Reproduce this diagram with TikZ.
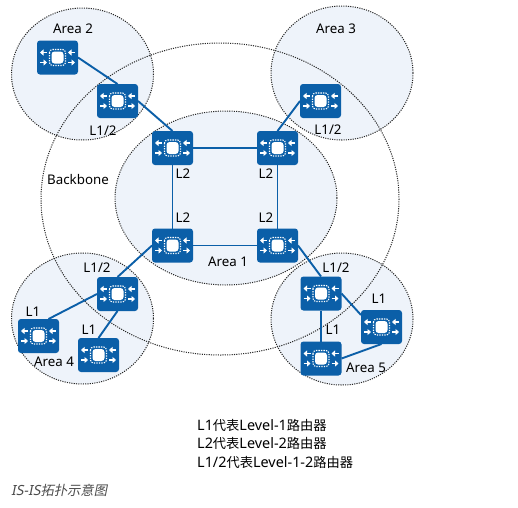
\documentclass[tikz,border=0pt]{standalone}
\usepackage{fontspec}
\setmainfont{Noto Sans}
\newfontfamily\cjk[Scale=0.92]{Noto Sans CJK SC}
\newfontfamily\capfont[FakeSlant=0.2]{Noto Sans}
\newfontfamily\capcjk[FakeSlant=0.2,Scale=0.95]{Noto Sans CJK SC}
\usetikzlibrary{positioning,calc,arrows.meta}
\definecolor{routerblue}{HTML}{0B5FA8}
\definecolor{areafill}{HTML}{EEF3FA}
\tikzset{
  dotline/.style={draw=black!85, line width=1pt, dash pattern=on 1.1pt off 1.2pt},
  area/.style={dotline, fill=areafill},
  link/.style={draw=routerblue, line width=1.9pt},
  lbl/.style={font=\fontsize{13.3}{15}\selectfont, inner sep=0pt, text=black},
  keytext/.style={font=\fontsize{14.4}{16}\selectfont, inner sep=0pt, anchor=west},
  captext/.style={font=\fontsize{14}{16}\selectfont, inner sep=0pt, anchor=west, text=black!70},
  router/.style={rectangle, rounded corners=3pt, fill=routerblue, minimum width=41pt, minimum height=34pt, inner sep=0pt, outer sep=0pt,
    path picture={
      \coordinate (c) at (path picture bounding box.center);
      \fill[white] ($(c)+(-6,-6)$) rectangle ($(c)+(6,6)$);
      \draw[white, line width=1.1pt, dash pattern=on 1.3pt off 1.2pt] ($(c)+(-8,-8)$) rectangle ($(c)+(8,8)$);
      \foreach \sx in {-1,1} {
        \draw[white, line width=1.8pt, -{Triangle[length=3.5pt,width=6pt]}] ($(c)+(\sx*14+3.5,-5)$) -- ($(c)+(\sx*14-3.5,-5)$);
        \draw[white, line width=1.8pt, -{Triangle[length=3.5pt,width=6pt]}] ($(c)+(\sx*14-3.5,5)$) -- ($(c)+(\sx*14+3.5,5)$);
      }
    }}
}
\begin{document}
\begin{tikzpicture}[x=1pt, y=-1pt]
\useasboundingbox (0,0) rectangle (518,507);
\fill[white] (0,0) rectangle (518,507);
% areas
\draw[area] (82.5,74) ellipse [x radius=71, y radius=66];
\draw[area] (342,73) ellipse [x radius=71, y radius=67];
\draw[area] (226,198) ellipse [x radius=111, y radius=87];
\draw[area] (82.5,318.5) ellipse [x radius=71, y radius=65.5];
\draw[area] (342,319) ellipse [x radius=71, y radius=66];
\draw[dotline] (220,199) ellipse [x radius=179, y radius=156];
% routers
\node (a2r) [router] at (57.5,57.5) {};
\node (a2b) [router] at (117.5,101) {};
\node (tl) [router] at (172.5,148) {};
\node (tr) [router] at (277.5,148) {};
\node (bl) [router] at (172.5,245.5) {};
\node (br) [router] at (277.5,245.5) {};
\node (a3b) [router] at (320.5,101) {};
\node (a4b) [router] at (117.5,294) {};
\node (a4l) [router] at (38.5,336) {};
\node (a4r) [router] at (98.5,355) {};
\node (a5b) [router] at (321,293.5) {};
\node (a5r) [router] at (381.5,327) {};
\node (a5l) [router] at (321,358.5) {};
% links
\draw[link] (a2r.east) -- (a2b.north);
\draw[link] (a2b.east) -- (tl.north);
\draw[link] (tl) -- (tr);
\draw[link] (tl) -- (bl);
\draw[link] (tr) -- (br);
\draw[link] (bl) -- (br);
\draw[link] (tr.north) -- (a3b.west);
\draw[link] (bl.west) -- (a4b.north);
\draw[link] (a4b.west) -- ([xshift=10pt]a4l.north);
\draw[link] (a4b.south) -- (a4r.north);
\draw[link] (br.east) -- (a5b.north);
\draw[link] (a5b.east) -- ([yshift=12pt]a5r.west);
\draw[link] (a5b) -- (a5l);
\draw[link] (a5r.south) -- (a5l.east);
% labels
\node (t2) [lbl] at (73,29) {Area 2};
\node (t3) [lbl] at (336,29) {Area 3};
\node (t1) [lbl] at (228,262) {Area 1};
\node (t4) [lbl] at (54,362) {Area 4};
\node (t5) [lbl] at (366,368) {Area 5};
\node (tb) [lbl] at (78,180) {Backbone};
\node (l1) [lbl] at (103,131) {L1/2};
\node (l2) [lbl] at (328,130) {L1/2};
\node (l3) [lbl] at (183,174) {L2};
\node (l4) [lbl] at (266,174) {L2};
\node (l5) [lbl] at (183,218) {L2};
\node (l6) [lbl] at (266,218) {L2};
\node (l7) [lbl] at (97,268) {L1/2};
\node (l8) [lbl] at (336,268) {L1/2};
\node (l9) [lbl] at (33,312) {L1};
\node (l10) [lbl] at (89,330) {L1};
\node (l11) [lbl] at (379,299) {L1};
\node (l12) [lbl] at (333,330) {L1};
\node (k1) [keytext] at (197,425) {L1{\cjk 代表}Level-1{\cjk 路由器}};
\node (k2) [keytext] at (197,443) {L2{\cjk 代表}Level-2{\cjk 路由器}};
\node (k3) [keytext] at (197,462) {L1/2{\cjk 代表}Level-1-2{\cjk 路由器}};
\node (cap) [captext] at (11,490) {\capfont IS-IS{\capcjk 拓扑示意图}};
\end{tikzpicture}
\end{document}
